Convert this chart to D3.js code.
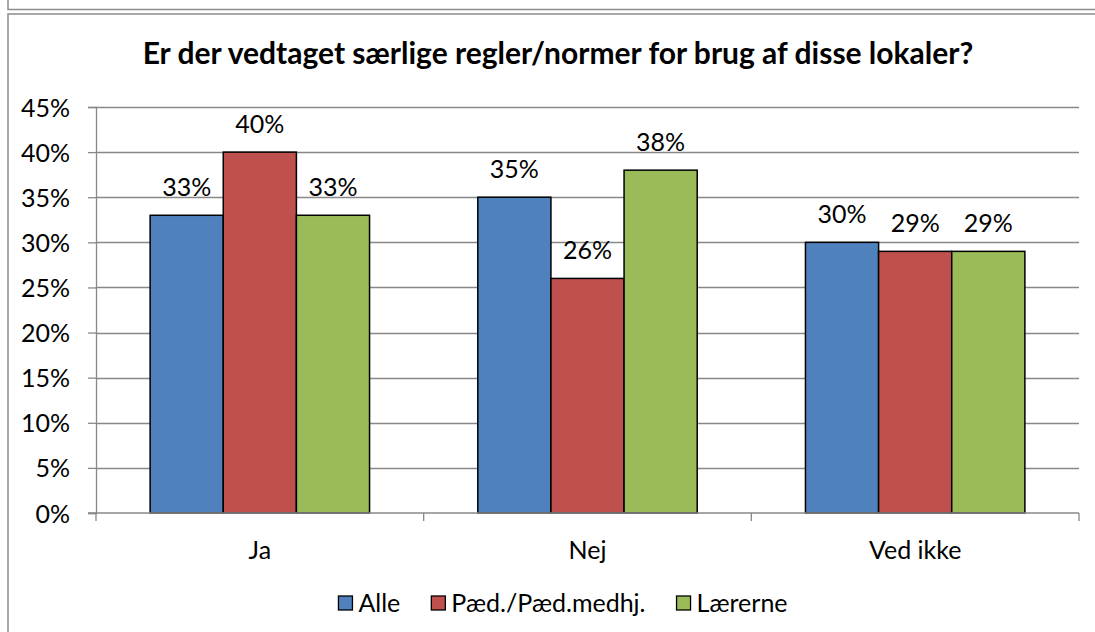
<!DOCTYPE html>
<html>
<head>
<meta charset="utf-8">
<script src="https://cdn.jsdelivr.net/npm/d3@7"></script>
<style>
  html, body { margin: 0; padding: 0; background: #fff; }
  svg text { font-family: Lato, "Open Sans", sans-serif; fill: #000; }
</style>
</head>
<body>
<svg id="chart" width="1095" height="632"></svg>
<script>
// Survey answers per group (share of respondents)
const categories = ["Ja", "Nej", "Ved ikke"];
const seriesNames = ["Alle", "Pæd./Pæd.medhj.", "Lærerne"];
const alle = [0.33, 0.35, 0.30];
const paed = [0.40, 0.26, 0.29];
const laererne = [0.33, 0.38, 0.29];
const yTicks = [0, 0.05, 0.10, 0.15, 0.20, 0.25, 0.30, 0.35, 0.40, 0.45];
const colors = ["#4F81BD", "#C0504D", "#9BBB59"];
const title = "Er der vedtaget særlige regler/normer for brug af disse lokaler?";

const seriesValues = [alle, paed, laererne];
const svg = d3.select("#chart");
const W = 1095, H = 632;
const margin = { left: 96, right: W - 1079, top: 107, bottom: H - 513 };
const labelSize = 25;

// outer frames
svg.append("path")
  .attr("d", `M8,0 V9.5 H${W}`)
  .attr("fill", "none").attr("stroke", "#8c8c8c").attr("stroke-width", 1.5);
svg.append("path")
  .attr("d", `M${W},14 H8 V${H}`)
  .attr("fill", "none").attr("stroke", "#8c8c8c").attr("stroke-width", 1.5);

// title
svg.append("text")
  .attr("x", 558).attr("y", 64)
  .attr("text-anchor", "middle")
  .attr("font-weight", "bold")
  .attr("font-size", 30)
  .text(title);

const x0 = d3.scaleBand()
  .domain(categories)
  .range([margin.left, W - margin.right])
  .paddingInner(0).paddingOuter(0);
const x1 = d3.scaleBand()
  .domain(seriesNames)
  .range([0, x0.bandwidth()])
  .paddingOuter(0.74).paddingInner(0);
const y = d3.scaleLinear()
  .domain([0, 0.45])
  .range([H - margin.bottom, margin.top]);

// gridlines
svg.append("g")
  .selectAll("line")
  .data(yTicks.slice(1))
  .join("line")
  .attr("x1", margin.left).attr("x2", W - margin.right)
  .attr("y1", d => Math.round(y(d)) + 0.5).attr("y2", d => Math.round(y(d)) + 0.5)
  .attr("stroke", "#888").attr("stroke-width", 1.3);

// y axis
const yAxis = svg.append("g")
  .attr("transform", `translate(${margin.left},0)`)
  .call(d3.axisLeft(y).tickValues(yTicks).tickFormat(d3.format(".0%")).tickSize(8).tickPadding(18));
yAxis.select(".domain").attr("stroke", "#888").attr("stroke-width", 1.3);
yAxis.selectAll(".tick line").attr("stroke", "#888").attr("stroke-width", 1.3);
yAxis.selectAll(".tick text").attr("font-size", labelSize).attr("font-family", "Lato, sans-serif").attr("fill", "#000").attr("dy", "0.36em");

// bars
const groups = svg.append("g")
  .selectAll("g")
  .data(categories)
  .join("g")
  .attr("transform", c => `translate(${x0(c)},0)`);

groups.selectAll("rect")
  .data((c, i) => seriesNames.map((s, j) => ({ s, j, v: seriesValues[j][i] })))
  .join("rect")
  .attr("x", d => x1(d.s))
  .attr("width", x1.bandwidth())
  .attr("y", d => y(d.v))
  .attr("height", d => y(0) - y(d.v))
  .attr("fill", d => colors[d.j])
  .attr("stroke", "#000").attr("stroke-width", 1.5);

// value labels
groups.selectAll("text.val")
  .data((c, i) => seriesNames.map((s, j) => ({ s, j, v: seriesValues[j][i] })))
  .join("text")
  .attr("class", "val")
  .attr("x", d => x1(d.s) + x1.bandwidth() / 2)
  .attr("y", d => y(d.v) - 19)
  .attr("text-anchor", "middle")
  .attr("font-size", labelSize)
  .text(d => d3.format(".0%")(d.v));

// x axis
const xAxis = svg.append("g")
  .attr("transform", `translate(0,${y(0)})`)
  .call(d3.axisBottom(x0).tickSize(0).tickPadding(28));
xAxis.select(".domain").remove();
xAxis.selectAll(".tick text").attr("font-size", labelSize).attr("font-family", "Lato, sans-serif").attr("fill", "#000");
svg.append("line")
  .attr("x1", margin.left - 8).attr("x2", W - margin.right)
  .attr("y1", y(0)).attr("y2", y(0))
  .attr("stroke", "#888").attr("stroke-width", 1.3);
svg.append("g")
  .selectAll("line")
  .data(categories.map(c => x0(c)).concat([W - margin.right]))
  .join("line")
  .attr("x1", d => d).attr("x2", d => d)
  .attr("y1", y(0)).attr("y2", y(0) + 8)
  .attr("stroke", "#888").attr("stroke-width", 1.3);

// legend
const legend = svg.append("g");
const items = legend.selectAll("g")
  .data(seriesNames)
  .join("g");
items.append("rect")
  .attr("width", 14).attr("height", 14)
  .attr("y", 596)
  .attr("fill", (d, i) => colors[i])
  .attr("stroke", "#000").attr("stroke-width", 1.3);
items.append("text")
  .attr("x", 20).attr("y", 612)
  .attr("font-size", labelSize)
  .text(d => d);
let cx = 0;
const offsets = [];
items.each(function () {
  offsets.push(cx);
  const w = this.querySelector("text").getComputedTextLength();
  cx += 20 + w + 31;
});
const total = cx - 31;
const start = 563 - total / 2;
items.attr("transform", (d, i) => `translate(${start + offsets[i]},0)`);
</script>
</body>
</html>
